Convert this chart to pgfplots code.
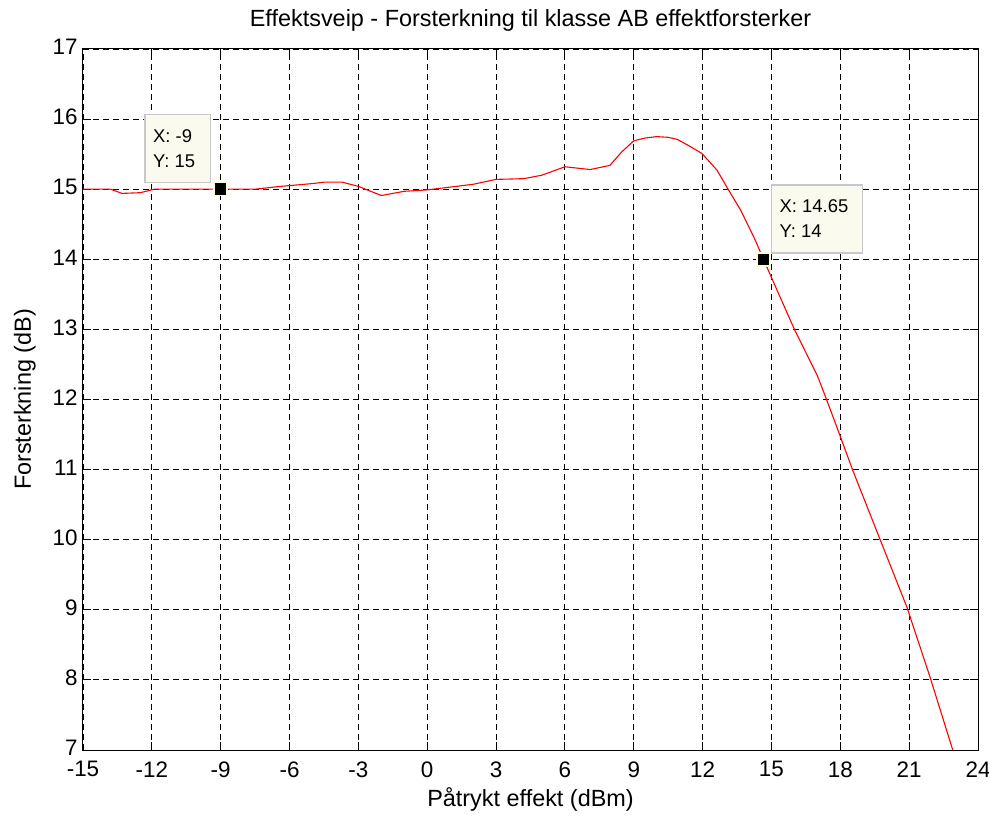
\documentclass[border=0pt]{standalone}
\usepackage{pgfplots}
\pgfplotsset{compat=1.18}
\usepackage{fontspec}
\setmainfont{Liberation Sans}
\definecolor{tipfill}{RGB}{250,250,238}
\definecolor{tipdraw}{RGB}{200,200,200}
\definecolor{markborder}{RGB}{255,255,215}
\pgfplotstableread{
x y
-15 15.0
-13.8 15.0
-13.3 14.94
-12.5 14.95
-11.9 15.0
-9 15.0
-7.5 15.0
-6.4 15.04
-5.0 15.08
-4.5 15.1
-3.7 15.1
-3.0 15.04
-2.0 14.91
-1.0 14.97
0 14.99
1.0 15.03
2.0 15.07
3.0 15.14
4.2 15.15
5.0 15.2
6.0 15.32
7.1 15.28
7.96 15.34
8.47 15.53
9.0 15.69
9.5 15.73
10.0 15.75
10.5 15.74
10.9 15.71
11.4 15.62
11.97 15.51
12.63 15.27
13.11 15.0
13.66 14.7
14.3 14.27
14.65 14.0
15.0 13.74
16.0 13.0
17.0 12.34
17.4 12.0
17.97 11.5
18.53 11.0
19.7 10.03
20.9 9.04
21.9 8.05
22.9 7.0
}\gaindata
\pgfplotstableread{
x y
-9 15
14.65 14
}\tipdata
\begin{document}
\begin{tikzpicture}
\useasboundingbox (-83bp,-68bp) rectangle (906bp,750bp);
\begin{axis}[
 scale only axis, width=895bp, height=701bp,
 xmin=-15, xmax=24, ymin=7, ymax=17,
 xtick={-15,-12,...,24}, ytick={7,8,...,17},
 tick align=inside, major tick length=8bp,
 grid=major,
 major grid style={black, dash pattern=on 6bp off 4bp, line width=0.9bp},
 axis line style={black, line width=1bp},
 every tick/.style={black, line width=1bp},
 tick label style={font=\fontsize{22.5}{26}\selectfont},
 /pgf/number format/assume math mode=true,
 yticklabel style={xshift=-2bp, yshift=2bp},
 xticklabel style={yshift=-8bp},
 label style={font=\fontsize{23.5}{28}\selectfont},
 ylabel shift=10bp,
 xlabel shift=3bp,
 title style={font=\fontsize{23.5}{28}\selectfont, yshift=8bp},
 title={Effektsveip - Forsterkning til klasse AB effektforsterker},
 xlabel={Påtrykt effekt (dBm)},
 ylabel={Forsterkning (dB)},
 clip=false,
]
\addplot[red, line width=1.1bp] table[x=x,y=y]{\gaindata};
\draw[fill=tipfill, draw=tipdraw, line width=1.2bp] (axis cs:-12.3,16.07) rectangle (axis cs:-9.45,15.09);
\node[anchor=west, align=left, font=\fontsize{18.5}{25}\selectfont, inner sep=0pt] at (axis cs:-11.95,15.58) {X: -9\\Y: 15};
\draw[fill=tipfill, draw=tipdraw, line width=1.2bp] (axis cs:15.0,15.06) rectangle (axis cs:18.95,14.09);
\node[anchor=west, align=left, font=\fontsize{18.5}{25}\selectfont, inner sep=0pt] at (axis cs:15.35,14.58) {X: 14.65\\Y: 14};
\addplot[only marks, mark=square*, mark size=6.5bp, mark options={fill=black, draw=markborder, line width=1.5bp}] table[x=x,y=y]{\tipdata};
\end{axis}
\end{tikzpicture}
\end{document}
